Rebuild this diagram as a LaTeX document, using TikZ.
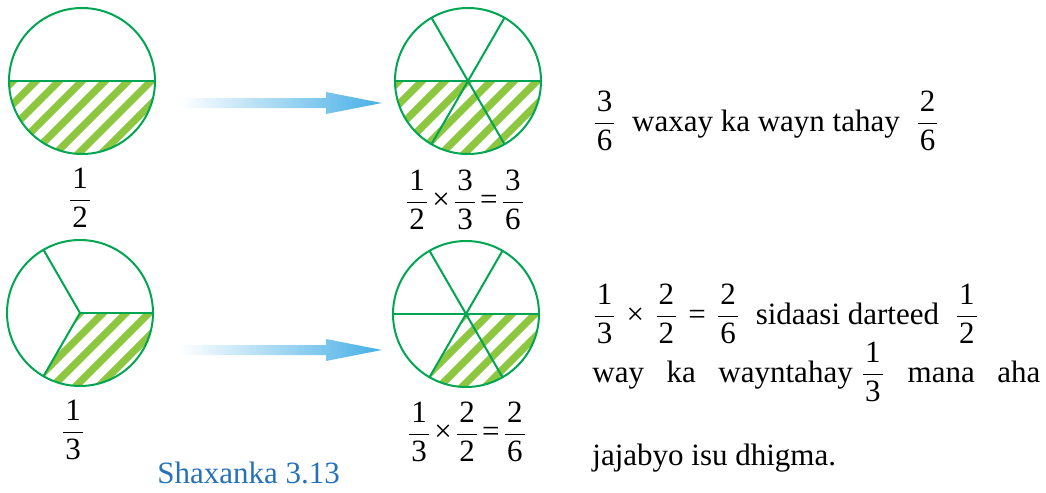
\documentclass[tikz,border=0pt]{standalone}
\usepackage{fontspec}
\setmainfont{Liberation Serif}
\definecolor{circgreen}{RGB}{0,166,81}
\definecolor{hatchgreen}{RGB}{141,198,63}
\definecolor{arrowblue}{RGB}{70,175,230}
\definecolor{capblue}{RGB}{38,113,186}
\newcommand\fr[2]{\ensuremath{\displaystyle\frac{\mbox{\kern1pt#1\kern1pt}}{\mbox{\kern1pt#2\kern1pt}}}}
\begin{document}
\begin{tikzpicture}[x=0.5pt,y=-0.5pt,font=\fontsize{15.5}{19}\selectfont,
  rim/.style={circgreen,line width=1pt},
  hatchline/.style={hatchgreen,line width=3.6pt},
  lab/.style={inner sep=0pt}]
  \useasboundingbox (0,0) rectangle (1046,493);
  \coordinate (c1) at (82,81);
  \coordinate (c2) at (468,81);
  \coordinate (c3) at (80,313);
  \coordinate (c4) at (466,314);
  % shaded parts
  \foreach \c/\e in {c1/180,c2/180,c3/120,c4/120}{
    \begin{scope}
      \clip (\c) -- ++(0:73) arc[start angle=0,end angle=\e,radius=73] -- cycle;
      \foreach \k in {-8,...,8}
        \draw[hatchline] ([shift={(\k*23-90,90)}]\c) -- ++(180,-180);
    \end{scope}
  }
  % circles and cuts
  \foreach \c in {c1,c2,c3,c4} \draw[rim] (\c) circle[radius=73];
  \draw[rim] (c1) ++(180:73) -- ++(0:146);
  \foreach \a in {0,60,...,300} \draw[rim] (c2) -- ++(\a:73);
  \foreach \a in {0,120,240} \draw[rim] (c3) -- ++(\a:73);
  \foreach \a in {0,60,...,300} \draw[rim] (c4) -- ++(\a:73);
  % arrows
  \shade[left color=white,right color=arrowblue] (180,98) -- (326,98) -- (326,92)
    -- (382,103) -- (326,114) -- (326,108) -- (180,108) -- cycle;
  \shade[left color=white,right color=arrowblue] (180,345) -- (326,345) -- (326,339)
    -- (382,350) -- (326,361) -- (326,355) -- (180,355) -- cycle;
  % labels
  \node[lab] (lab1) at (80,198) {\fr12};
  \node[lab] (lab2) at (465,200) {\fr12\kern1.5pt×\kern1.5pt\fr33\kern1.5pt=\kern1.5pt\fr36};
  \node[lab] (lab3) at (73,430) {\fr13};
  \node[lab] (lab4) at (467,432) {\fr13\kern1.5pt×\kern1.5pt\fr22\kern1.5pt=\kern1.5pt\fr26};
  \node[lab,anchor=base west,text=capblue] (cap) at (157,483) {Shaxanka 3.13};
  % text on the right
  \node[lab,anchor=base west] (t1) at (592,131) {\fr36\enskip waxay ka wayn tahay\enskip\fr26};
  \node[lab,anchor=base west] (t2) at (592,324)
    {\fr13\hspace{5pt}×\hspace{5pt}\fr22\hspace{5pt}=\hspace{5pt}\fr26\enskip sidaasi darteed\enskip\fr12};
  \node[lab,anchor=base west] (t3) at (592,382)
    {\makebox[224pt][s]{way ka wayntahay\hspace{4pt}\fr13 mana aha}};
  \node[lab,anchor=base west] (t4) at (592,465) {jajabyo isu dhigma.};
\end{tikzpicture}
\end{document}
